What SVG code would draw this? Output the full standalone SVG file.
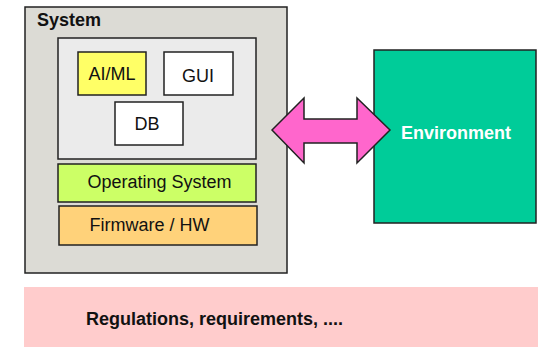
<svg xmlns="http://www.w3.org/2000/svg" width="544" height="347" viewBox="0 0 544 347">
<style>
.box{stroke:#222;stroke-width:1.5}
.t{font-family:"Liberation Sans",Arial,sans-serif;font-size:18px;fill:#111;text-anchor:middle}
.b{font-weight:bold}
</style>
<rect width="544" height="347" fill="#fff"/>
<g id="system">
<rect class="box" x="25" y="7" width="262" height="266" fill="#dcdbd5"/>
<text class="t b" x="37" y="26" style="text-anchor:start">System</text>
</g>
<g id="apps">
<rect class="box" x="58" y="38" width="198" height="121" fill="#ebebeb"/>
</g>
<g id="aiml">
<rect class="box" x="78" y="52" width="68" height="43" fill="#ffff66"/>
<text class="t" x="112" y="80">AI/ML</text>
</g>
<g id="gui">
<rect class="box" x="164" y="52" width="69" height="43" fill="#fff"/>
<text class="t" x="198" y="81.5">GUI</text>
</g>
<g id="db">
<rect class="box" x="115" y="102" width="68" height="43" fill="#fff"/>
<text class="t" x="147" y="130">DB</text>
</g>
<g id="os">
<rect class="box" x="58" y="164" width="198" height="38" fill="#ccff66"/>
<text class="t" x="159.5" y="188">Operating System</text>
</g>
<g id="fw">
<rect class="box" x="59" y="206" width="198" height="39" fill="#ffd27a"/>
<text class="t" x="149.5" y="231">Firmware / HW</text>
</g>
<g id="environment">
<rect class="box" x="374" y="50" width="162" height="173" fill="#00cc99"/>
<text class="t b" x="456" y="139" style="fill:#fff">Environment</text>
</g>
<g id="regulations">
<rect x="24" y="287" width="514" height="60" fill="#ffcccc"/>
<text class="t b" x="86" y="325" style="text-anchor:start">Regulations, requirements, ....</text>
</g>
<g id="connectors">
<polygon points="272,130 304,98 304,119 357,119 357,98 390,130 357,163 357,143 304,143 304,163" fill="#ff66cc" stroke="#222" stroke-width="1.5" stroke-linejoin="miter"/>
</g>
</svg>
